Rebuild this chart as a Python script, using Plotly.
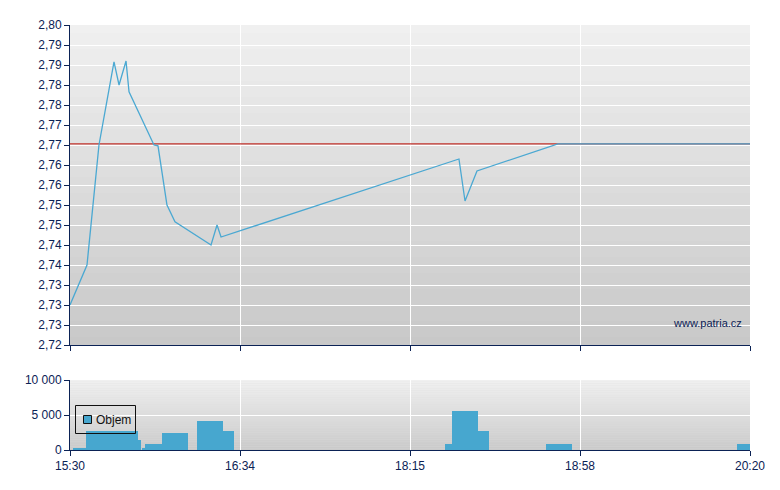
import plotly.graph_objects as go
import numpy as np

# ---- data (x in session-progress units 0..100, ticks every 25) ----
price_t = [0, 2.5, 4.26, 6.47, 7.21, 8.24, 8.68, 12.35, 12.94, 14.26, 15.44,
           20.74, 21.62, 22.21, 57.2, 58.09, 59.85, 71.76, 100]
price_v = [2.730, 2.740, 2.770, 2.7908, 2.785, 2.791, 2.7833, 2.770, 2.7698,
           2.755, 2.7508, 2.745, 2.750, 2.7470, 2.7665, 2.756, 2.7635, 2.7703, 2.7703]
prev_close = 2.7703

vol_start = [0.44, 2.35, 10.0, 10.59, 11.03, 13.53, 18.68, 22.5, 55.15, 56.18, 60.0, 70.0, 98.09]
vol_end = [2.35, 10.0, 10.44, 11.03, 13.53, 17.35, 22.5, 24.12, 56.18, 60.0, 61.62, 73.82, 100.0]
vol_v = [300, 2700, 1400, 300, 850, 2400, 4150, 2700, 850, 5550, 2700, 850, 850]

x_tickvals = [0, 25, 50, 75, 100]
x_ticktext = ["15:30", "16:34", "18:15", "18:58", "20:20"]

y_tickvals = [2.800, 2.795, 2.790, 2.785, 2.780, 2.775, 2.770, 2.765, 2.760,
              2.755, 2.750, 2.745, 2.740, 2.735, 2.730, 2.725, 2.720]
y_ticktext = ["2,80", "2,79", "2,79", "2,78", "2,78", "2,77", "2,77", "2,76", "2,76",
              "2,75", "2,75", "2,74", "2,74", "2,73", "2,73", "2,73", "2,72"]

v_tickvals = [0, 5000, 10000]
v_ticktext = ["0", "5 000", "10 000"]
legend_name = "Objem"

NAVY = "#0b2255"
BLUE = "#4aa8d2"
BAR = "#47a7cf"
RED = "#c0302a"

fig = go.Figure()

# previous close line
fig.add_trace(go.Scatter(x=[0, 100], y=[prev_close, prev_close], mode="lines",
                         line=dict(color=RED, width=1.3), showlegend=False,
                         hoverinfo="skip", xaxis="x", yaxis="y"))
# price line
fig.add_trace(go.Scatter(x=price_t, y=price_v, mode="lines",
                         line=dict(color=BLUE, width=1.3), showlegend=False,
                         xaxis="x", yaxis="y"))

# volume bars
vs = np.array(vol_start); ve = np.array(vol_end)
fig.add_trace(go.Bar(x=(vs + ve) / 2, y=vol_v, width=ve - vs, name=legend_name,
                     marker=dict(color=BAR, line=dict(width=0)),
                     showlegend=False, xaxis="x2", yaxis="y2"))

# gradient backgrounds
shapes = []
n = 40
def grad(top, bottom, frac):
    c = int(round(top + (bottom - top) * frac))
    return f"rgb({c},{c},{c})"
for xr, yr, top, bot in [("x domain", "y domain", 240, 200), ("x2 domain", "y2 domain", 240, 202)]:
    for i in range(n):
        y0 = i / n; y1 = (i + 1) / n
        frac = 1 - (i + 0.5) / n
        shapes.append(dict(type="rect", xref=xr, yref=yr, x0=0, x1=1, y0=y0, y1=y1,
                           fillcolor=grad(top, bot, frac), line=dict(width=0),
                           layer="below"))

# hand-drawn legend box (paper px -> fractions)
W, H, L, T, B = 780, 490, 70, 25, 40
pw, ph = W - L - 30, H - T - B
def px(x): return (x - L) / pw
def py(y): return (H - B - y) / ph
shapes.append(dict(type="rect", xref="paper", yref="paper",
                   x0=px(75.5), x1=px(135.5), y0=py(405.5), y1=py(433.5),
                   line=dict(color="#111111", width=1), fillcolor="rgba(0,0,0,0)",
                   layer="above"))
shapes.append(dict(type="rect", xref="paper", yref="paper",
                   x0=px(83.5), x1=px(91.5), y0=py(415.5), y1=py(423.5),
                   line=dict(color="#111111", width=1), fillcolor=BAR, layer="above"))

axis_common = dict(showline=True, linecolor=NAVY, linewidth=1, ticks="outside",
                   ticklen=5, tickcolor=NAVY, gridcolor="white", gridwidth=1,
                   zeroline=False, automargin=False, tickfont=dict(color=NAVY, size=12))

fig.update_layout(
    width=W, height=H,
    margin=dict(l=L, r=30, t=T, b=B),
    paper_bgcolor="white", plot_bgcolor="#dddddd",
    font=dict(family="Liberation Sans, Arial, sans-serif", color=NAVY, size=12),
    shapes=shapes,
    bargap=0,
    xaxis=dict(domain=[0, 1], anchor="y", range=[0, 100], tickvals=x_tickvals,
               showticklabels=False, **axis_common),
    yaxis=dict(domain=[py(345), 1], anchor="x", range=[2.72, 2.80],
               tickvals=y_tickvals, ticktext=y_ticktext, **axis_common),
    xaxis2=dict(domain=[0, 1], anchor="y2", range=[0, 100], tickvals=x_tickvals,
                ticktext=x_ticktext, **axis_common),
    yaxis2=dict(domain=[0, py(380)], anchor="x2", range=[0, 10000],
                tickvals=v_tickvals, ticktext=v_ticktext, **axis_common),
    annotations=[
        dict(text="www.patria.cz", xref="paper", yref="paper",
             x=px(744), y=py(323), xanchor="right", yanchor="middle",
             showarrow=False, font=dict(color=NAVY, size=11)),
        dict(text=legend_name, xref="paper", yref="paper",
             x=px(94), y=py(419.5), xanchor="left", yanchor="middle",
             showarrow=False, font=dict(color="#111111", size=12)),
    ],
    showlegend=False,
)

fig.write_html("out.html", post_script="document.body.style.margin='0';",
               config={"displayModeBar": False})
